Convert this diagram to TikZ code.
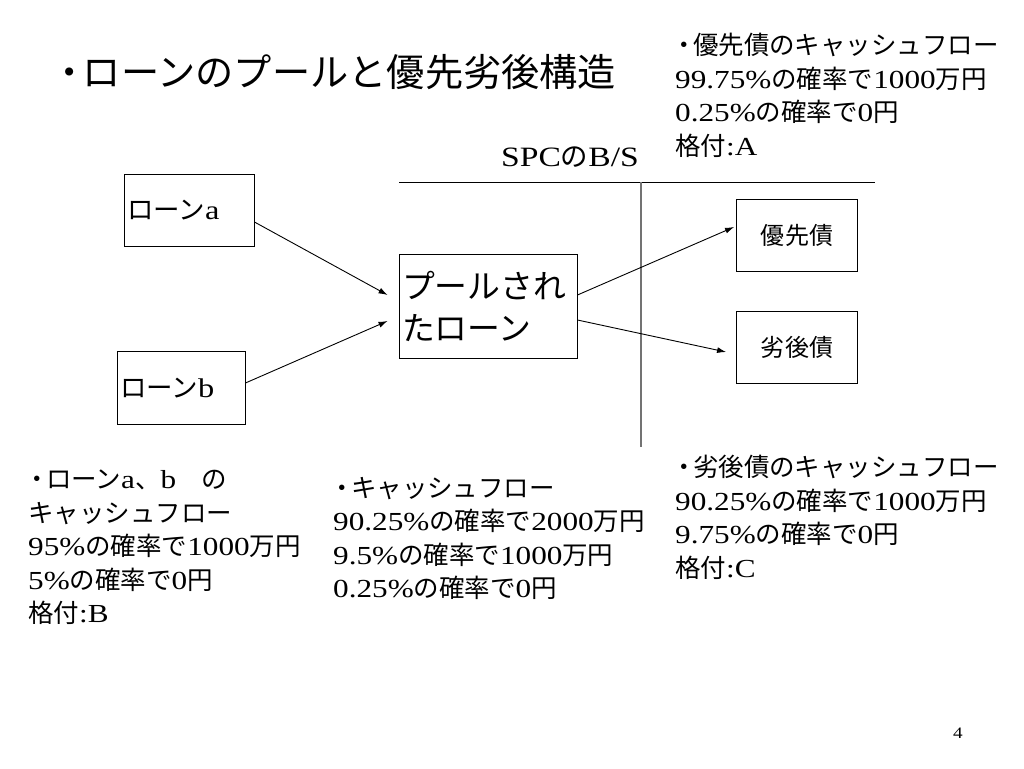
\documentclass[tikz,border=0pt]{standalone}
\usepackage{fontspec}
\setmainfont[FakeStretch=1.2]{Liberation Serif}
\newfontfamily\jp[Scale=0.98]{Noto Sans CJK JP}
\newcommand\ja[1]{{\jp #1}}
\newcommand\bul{{\jp\kern-0.15em・\kern-0.15em}}
\usetikzlibrary{arrows.meta}
\tikzset{
  box/.style={draw,line width=0.9pt,inner sep=3pt},
  note/.style={anchor=north west,align=left,inner sep=0pt,font=\fontsize{26}{33.5}\selectfont},
  flow/.style={-{Latex[length=9pt,width=6pt]},line width=0.9pt}
}
\begin{document}
\begin{tikzpicture}[x=1pt,y=-1pt]
\useasboundingbox (0,0) rectangle (1024,768);
\node[anchor=west,inner sep=0pt,font=\fontsize{39}{42}\selectfont] (title) at (56,72) {\bul\ja{ローンのプールと優先劣後構造}};
\node[inner sep=0pt,font=\fontsize{28}{30}\selectfont] (spc) at (570,157) {SPC\ja{の}B/S};
\coordinate (hl) at (399,182); \coordinate (hr) at (875,182);
\coordinate (vt) at (641,182); \coordinate (vb) at (641,447);
\draw[line width=0.9pt] (hl)--(hr);
\draw[line width=1.2pt,black!55] (vt)--(vb);
\node[box,minimum height=72pt,text width=124pt,align=left,font=\fontsize{27}{30}\selectfont] (loanA) at (189,210) {\ja{ローン}a};
\node[box,minimum height=73pt,text width=122pt,align=left,font=\fontsize{27}{30}\selectfont] (loanB) at (181,388) {\ja{ローン}b};
\node[box,minimum width=178pt,minimum height=104pt,text width=172pt,align=left,font=\fontsize{33.5}{42}\selectfont] (pool) at (488,306) {\ja{プールされ}\\\ja{たローン}};
\node[box,minimum width=121pt,minimum height=72pt,font=\fontsize{24.5}{28}\selectfont] (senior) at (797,235) {\ja{優先債}};
\node[box,minimum width=121pt,minimum height=72pt,font=\fontsize{24.5}{28}\selectfont] (junior) at (797,347) {\ja{劣後債}};
\draw[flow] ([yshift=-12pt]loanA.east)--([xshift=-11pt,yshift=11pt]pool.west);
\draw[flow] ([yshift=5pt]loanB.east)--([xshift=-11pt,yshift=-15pt]pool.west);
\draw[flow] ([yshift=11pt]pool.east)--([xshift=-2pt,yshift=8pt]senior.west);
\draw[flow] ([yshift=-14pt]pool.east)--([xshift=-10pt,yshift=-5pt]junior.west);
\node[note] (seniorcf) at (675,33) {\bul\ja{優先債のキャッシュフロー}\\99.75\%\ja{の確率で}1000\ja{万円}\\0.25\%\ja{の確率で}0\ja{円}\\\ja{格付}:A};
\node[note] (loancf) at (28,470) {\bul\ja{ローン}a\ja{、}b\ja{　の}\\\ja{キャッシュフロー}\\95\%\ja{の確率で}1000\ja{万円}\\5\%\ja{の確率で}0\ja{円}\\\ja{格付}:B};
\node[note] (poolcf) at (333,477) {\bul\ja{キャッシュフロー}\\90.25\%\ja{の確率で}2000\ja{万円}\\9.5\%\ja{の確率で}1000\ja{万円}\\0.25\%\ja{の確率で}0\ja{円}};
\node[note] (juniorcf) at (675,455) {\bul\ja{劣後債のキャッシュフロー}\\90.25\%\ja{の確率で}1000\ja{万円}\\9.75\%\ja{の確率で}0\ja{円}\\\ja{格付}:C};
\node[font=\fontsize{16}{18}\selectfont] (page) at (958,733) {4};
\end{tikzpicture}
\end{document}
